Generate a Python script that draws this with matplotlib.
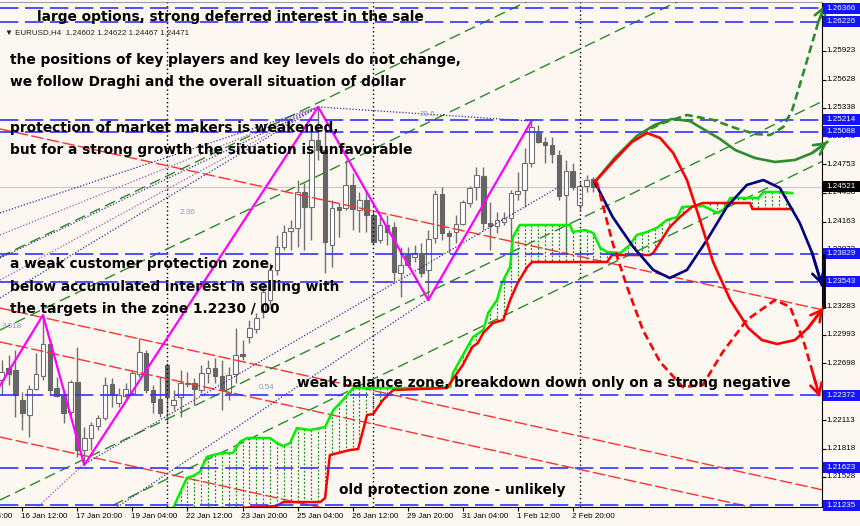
import numpy as np
import matplotlib.pyplot as plt
from matplotlib.patches import Rectangle
from matplotlib.transforms import blended_transform_factory as blend

BG = "#fdf7f2"

# ---------------- EURUSD H4 candles ----------------
opens = [1.22527, 1.22651, 1.22631, 1.22321, 1.22166, 1.22435, 1.22569, 1.22899, 1.22445, 1.22373,
         1.22197, 1.22507, 1.21805, 1.21929, 1.22053, 1.22135, 1.22486, 1.22290, 1.22362, 1.22393,
         1.22589, 1.22806, 1.22424, 1.22331, 1.22682, 1.22269, 1.22352, 1.22486, 1.22496, 1.22424,
         1.22600, 1.22651, 1.22569, 1.22393, 1.22589, 1.22796, 1.22971, 1.23054, 1.23229, 1.23353,
         1.23663, 1.23900, 1.24065, 1.24096, 1.24468, 1.24313, 1.25004, 1.24901, 1.23921, 1.24313,
         1.24302, 1.24540, 1.24282, 1.24385, 1.24230, 1.23972, 1.24127, 1.24106, 1.23632, 1.23817,
         1.23797, 1.23838, 1.23663, 1.23993, 1.24447, 1.24044, 1.24055, 1.24137, 1.24354, 1.24519,
         1.24633, 1.24148, 1.24117, 1.24158, 1.24199, 1.24447, 1.24488, 1.24767, 1.25076, 1.24984,
         1.24953, 1.24849, 1.24437, 1.24684, 1.24333, 1.24530, 1.24602]
highs = [1.22734, 1.22785, 1.22837, 1.22404, 1.22476, 1.22806, 1.23198, 1.22961, 1.22558, 1.22424,
         1.22527, 1.22868, 1.22042, 1.22094, 1.22166, 1.22558, 1.22548, 1.22445, 1.22496, 1.22631,
         1.22961, 1.22837, 1.22476, 1.22558, 1.22703, 1.22424, 1.22631, 1.22610, 1.22548, 1.22682,
         1.22734, 1.22754, 1.22734, 1.22662, 1.23064, 1.22940, 1.23147, 1.23219, 1.23508, 1.23735,
         1.24024, 1.24127, 1.24179, 1.24591, 1.24560, 1.25128, 1.25345, 1.25138, 1.24385, 1.24354,
         1.24798, 1.24664, 1.24468, 1.24488, 1.24282, 1.24210, 1.24230, 1.24158, 1.23900, 1.23900,
         1.23921, 1.23941, 1.24075, 1.24488, 1.24519, 1.24075, 1.24230, 1.24385, 1.24530, 1.24726,
         1.24726, 1.24364, 1.24261, 1.24261, 1.24488, 1.24674, 1.24922, 1.25200, 1.25159, 1.25035,
         1.25035, 1.24901, 1.24798, 1.24767, 1.24571, 1.24643, 1.24622]
lows = [1.22373, 1.22476, 1.22146, 1.22011, 1.21939, 1.22424, 1.22527, 1.22373, 1.22352, 1.22084,
        1.22166, 1.21733, 1.21650, 1.21805, 1.22011, 1.22115, 1.22249, 1.22249, 1.22342, 1.22373,
        1.22558, 1.22393, 1.22187, 1.22146, 1.22084, 1.22218, 1.22146, 1.22455, 1.22269, 1.22393,
        1.22496, 1.22496, 1.22218, 1.22321, 1.22496, 1.22734, 1.22909, 1.23013, 1.23167, 1.23301,
        1.23611, 1.23869, 1.23869, 1.23900, 1.23869, 1.23972, 1.24798, 1.23632, 1.23694, 1.24003,
        1.24282, 1.24075, 1.24055, 1.24055, 1.23921, 1.23941, 1.23921, 1.23529, 1.23384, 1.23694,
        1.23745, 1.23590, 1.23353, 1.23941, 1.23972, 1.23838, 1.23941, 1.24127, 1.24313, 1.24385,
        1.24075, 1.23869, 1.24044, 1.24127, 1.23838, 1.24385, 1.24313, 1.24726, 1.24973, 1.24767,
        1.24767, 1.24385, 1.23838, 1.24488, 1.24282, 1.24468, 1.24467]
closes = [1.22610, 1.22589, 1.22373, 1.22187, 1.22435, 1.22589, 1.22899, 1.22424, 1.22362, 1.22187,
          1.22507, 1.21805, 1.21929, 1.22063, 1.22135, 1.22476, 1.22373, 1.22373, 1.22435, 1.22600,
          1.22816, 1.22424, 1.22300, 1.22187, 1.22352, 1.22321, 1.22496, 1.22496, 1.22435, 1.22600,
          1.22651, 1.22569, 1.22424, 1.22579, 1.22785, 1.22775, 1.23064, 1.23167, 1.23436, 1.23663,
          1.23900, 1.24055, 1.24096, 1.24468, 1.24313, 1.25004, 1.24901, 1.23951, 1.24302, 1.24282,
          1.24540, 1.24292, 1.24385, 1.24230, 1.23951, 1.24127, 1.24055, 1.23642, 1.23714, 1.23714,
          1.23838, 1.23632, 1.23982, 1.24447, 1.24044, 1.24013, 1.24137, 1.24364, 1.24509, 1.24643,
          1.24148, 1.24117, 1.24179, 1.24199, 1.24457, 1.24478, 1.24767, 1.25138, 1.24984, 1.24953,
          1.24860, 1.24426, 1.24684, 1.24519, 1.24530, 1.24591, 1.24521]

time_tick_idx = [-5, 3, 11, 19, 27, 35, 43, 51, 59, 67, 75, 83]
time_tick_lab = ["15 Jan 04:00", "16 Jan 12:00", "17 Jan 20:00", "19 Jan 04:00", "22 Jan 12:00",
                 "23 Jan 20:00", "25 Jan 04:00", "26 Jan 12:00", "29 Jan 20:00", "31 Jan 04:00",
                 "1 Feb 12:00", "2 Feb 20:00"]

price_ticks = [1.25923, 1.25628, 1.25338, 1.25043, 1.24753, 1.24458, 1.24163, 1.23873,
               1.23283, 1.22993, 1.22698, 1.22113, 1.21818, 1.21528]
key_levels = [1.26366, 1.26226, 1.25214, 1.25088, 1.23829, 1.23543, 1.22372, 1.21623, 1.21235]
bid = 1.24521

separators = [24, 54, 84]

# zigzag (bar index, price)
zigzag = [(-3, 1.2215), (6, 1.23198), (12, 1.21650), (46, 1.25345), (62, 1.23353), (77, 1.25200)]

# ichimoku cloud borders (bar index, price)
span_a = [(24.5, 1.2114), (26.9, 1.21516), (27.8, 1.21537), (28.8, 1.21578), (29.8, 1.21733),
          (30.7, 1.21753), (32.0, 1.21774), (33.6, 1.21774), (34.6, 1.21888), (35.7, 1.21929),
          (39.0, 1.21929), (40.0, 1.21877), (40.9, 1.21846), (41.9, 1.21877), (42.9, 1.22032),
          (44.8, 1.22011), (47.0, 1.22042), (47.7, 1.22146), (48.2, 1.22218), (49.6, 1.22321),
          (51.1, 1.22445), (63.7, 1.22445), (65.2, 1.22455), (65.6, 1.22600), (67.0, 1.22780),
          (68.5, 1.22971), (70.0, 1.23043), (70.7, 1.23219), (72.0, 1.23353), (72.7, 1.23529),
          (73.9, 1.23694), (74.3, 1.24003), (75.3, 1.24127), (82.6, 1.24127), (83.0, 1.24055),
          (84.8, 1.24075), (86.0, 1.24044), (87.0, 1.23890), (88.0, 1.23848), (89.9, 1.23838),
          (91.3, 1.23921), (92.3, 1.24024), (93.8, 1.24055), (95.2, 1.24096), (96.7, 1.24179),
          (98.2, 1.24210), (98.9, 1.24313), (102.0, 1.24323), (104.0, 1.24251), (104.9, 1.24282),
          (105.9, 1.24406), (110.0, 1.24406), (110.7, 1.24468), (113.1, 1.24468), (114.9, 1.24457)]
span_b = [(33.0, 1.21200), (40.0, 1.21227), (40.9, 1.21268), (46.3, 1.21268), (47.0, 1.21309),
          (47.7, 1.21753), (50.6, 1.21805), (51.8, 1.21815), (53.1, 1.22166), (54.0, 1.22177),
          (55.4, 1.22321), (56.9, 1.22424), (64.7, 1.22445), (66.2, 1.22600), (67.0, 1.22680),
          (68.4, 1.22868), (69.2, 1.22909), (70.0, 1.23013), (71.4, 1.23116), (72.9, 1.23147),
          (73.9, 1.23353), (75.0, 1.23529), (76.4, 1.23694), (77.1, 1.23745), (88.0, 1.23745),
          (88.7, 1.23817), (94.2, 1.23817), (94.7, 1.23838), (97.1, 1.24106), (98.6, 1.24210),
          (100.3, 1.24313), (101.9, 1.24354), (108.8, 1.24354), (109.1, 1.24292), (114.9, 1.24292)]

# channel lines: ((i0, p0), (i1, p1))
red_channel = [((-0.25, 1.25118), (119.4, 1.23250)),
               ((-0.25, 1.23270), (119.4, 1.21392)),
               ((-0.25, 1.22920), (119.4, 1.21052)),
               ((-0.25, 1.21939), (119.4, 1.20071))]
green_channel = [((-0.25, 1.23797), (119.4, 1.27915)),
                 ((-0.25, 1.23043), (119.4, 1.27161)),
                 ((-0.25, 1.21289), (119.4, 1.25407)),
                 ((-0.25, 1.20670), (119.4, 1.24788))]
navy_dotted = [((11.8, 1.21650), (81.0, 1.24520)),
               ((16.8, 1.21217), (61.8, 1.23353)),
               ((46.0, 1.25345), (76.9, 1.25200)),
               ((-0.25, 1.24251), (46.0, 1.25345)),
               ((-0.25, 1.23786), (46.0, 1.25345)),
               ((-0.25, 1.23374), (46.0, 1.25345))]
purple_dotted = [((-0.25, 1.24024), (46.0, 1.25345)),
                 ((-0.25, 1.23559), (46.0, 1.25345)),
                 ((4.1, 1.21144), (11.8, 1.21650))]
fib_labels = [(0.0, 1.23075, "3.618"), (25.9, 1.24251, "2.36"), (37.3, 1.22445, "0.54"),
              (60.8, 1.25262, "23.6")]

# forecast scenarios drawn by hand (bar index, price)
fc_green = [(86.2, 1.24571), (89.1, 1.24818), (92.3, 1.25045), (94.9, 1.25159), (97.4, 1.25221),
            (100.0, 1.25200), (102.2, 1.25107), (104.4, 1.25015), (106.6, 1.24901), (109.5, 1.24818),
            (112.4, 1.24777), (115.3, 1.24798), (117.8, 1.24870), (120.0, 1.24984)]
fc_green_dash = [(92.8, 1.25066), (95.7, 1.25169), (99.6, 1.25262), (103.4, 1.25211), (106.6, 1.25128),
                 (109.5, 1.25066), (111.7, 1.25056), (113.6, 1.25138), (114.9, 1.25314), (116.0, 1.25572),
                 (117.5, 1.25933), (118.7, 1.26222), (119.7, 1.26397)]
fc_red = [(86.2, 1.24571), (89.1, 1.24798), (91.6, 1.24984), (93.8, 1.25076), (95.7, 1.25025),
          (97.6, 1.24870), (99.6, 1.24591), (101.5, 1.24179), (103.4, 1.23745), (105.9, 1.23353),
          (108.5, 1.23064), (110.5, 1.22940), (112.7, 1.22899), (115.3, 1.22940), (117.2, 1.23064),
          (119.4, 1.23270)]
fc_navy = [(86.2, 1.24571), (88.8, 1.24210), (91.8, 1.23900), (94.7, 1.23663), (97.1, 1.23580),
           (99.6, 1.23663), (102.5, 1.23972), (105.4, 1.24313), (108.3, 1.24540), (110.7, 1.24591),
           (113.1, 1.24509), (116.0, 1.24148), (117.8, 1.23838), (119.2, 1.23508)]
fc_red_dash = [(86.5, 1.24571), (88.8, 1.23941), (90.9, 1.23487), (93.2, 1.23043), (95.7, 1.22713),
               (99.0, 1.22455), (101.9, 1.22476), (104.8, 1.22816), (108.3, 1.23147), (112.4, 1.23353),
               (114.6, 1.23281), (116.5, 1.22940), (117.9, 1.22600), (118.9, 1.22352)]

notes = [(5.1, 1.26274, "large options, strong deferred interest in the sale"),
         (1.2, 1.25830, "the positions of key players and key levels do not change,"),
         (1.2, 1.25603, "we follow Draghi and the overall situation of dollar"),
         (1.2, 1.25128, "protection of market makers is weakened,"),
         (1.2, 1.24901, "but for a strong growth the situation is unfavorable"),
         (1.2, 1.23725, "a weak customer protection zone,"),
         (1.2, 1.23487, "below accumulated interest in selling with"),
         (1.2, 1.23260, "the targets in the zone 1.2230 / 00"),
         (42.9, 1.22496, "weak balance zone, breakdown down only on a strong negative"),
         (49.0, 1.21392, "old protection zone - unlikely")]

# ---------------- figure ----------------
fig = plt.figure(figsize=(8.6, 5.26), dpi=100, facecolor=BG)
ax = fig.add_axes([0, 19 / 526, 822 / 860, 505 / 526], facecolor=BG)
ax.set_xlim(-0.25, 119.23)
ax.set_ylim(1.21217, 1.26428)

ax.spines["left"].set_visible(False)
ax.spines["top"].set_color("#a0a0a0")
ax.spines["right"].set_color("black")
ax.spines["bottom"].set_color("black")

# candles
idx = np.arange(len(opens))
o, h, l, c = (np.array(a) for a in (opens, highs, lows, closes))
up = c >= o
ax.vlines(idx, l, h, color="#707070", lw=1, zorder=2)
ax.bar(idx[up], (c - o)[up], bottom=o[up], width=0.66, color="white",
       edgecolor="#707070", lw=0.8, zorder=2.5)
ax.bar(idx[~up], (o - c)[~up], bottom=c[~up], width=0.66, color="#666666",
       edgecolor="#666666", lw=0.8, zorder=2.5)

ax.axhline(bid, color="#c8c8c8", lw=0.8, zorder=1.5)

for s in separators:
    ax.axvline(s, color="black", lw=1, ls=(0, (1, 2)), zorder=3)

# channels / fans
for (x0, y0), (x1, y1) in red_channel:
    ax.plot([x0, x1], [y0, y1], color="#ff3030", lw=1, dashes=(9, 2.5), zorder=3)
for (x0, y0), (x1, y1) in green_channel:
    ax.plot([x0, x1], [y0, y1], color="#2a8a2a", lw=1, dashes=(8, 4), zorder=3)
for (x0, y0), (x1, y1) in navy_dotted:
    ax.plot([x0, x1], [y0, y1], color="#2b2b9a", lw=0.9, ls=(0, (1, 1.5)), zorder=3)
for (x0, y0), (x1, y1) in purple_dotted:
    ax.plot([x0, x1], [y0, y1], color="#a050b0", lw=0.9, ls=(0, (1, 1.5)), zorder=3)
for x, y, t in fib_labels:
    ax.text(x, y, t, color="#8a9ab8", fontsize=5.8, family="Liberation Sans", va="center", zorder=3)

# ichimoku cloud
ax_, ay_ = zip(*span_a)
bx_, by_ = zip(*span_b)
for k in range(25, 115):
    ya = np.interp(k, ax_, ay_)
    yb = np.interp(k, bx_, by_, left=1.2110)
    ax.plot([k, k], [ya, yb], color="#1e8c1e", lw=0.9, ls=(0, (1.5, 1.5)), zorder=3.2)
ax.plot(ax_, ay_, color="#00f000", lw=1.8, zorder=3.5)
ax.plot(bx_, by_, color="#ff0000", lw=1.8, zorder=3.5)

# zigzag
zx, zy = zip(*zigzag)
ax.plot(zx, zy, color="#ff00ff", lw=1.6, zorder=4)

# key levels
for lv in key_levels:
    ax.axhline(lv, color="#3232ff", lw=1.2, dashes=(11, 4), zorder=4)

# forecast curves
def curve(pts, color, dashed=False):
    xs, ys = zip(*pts)
    kw = dict(dashes=(3, 1.6)) if dashed else {}
    ax.plot(xs, ys, color=color, lw=1.9, zorder=5, clip_on=False,
            solid_joinstyle="round", **kw)
    ax.annotate("", xy=pts[-1], xytext=pts[-2], annotation_clip=False, zorder=5,
                arrowprops=dict(arrowstyle="->,head_length=0.55,head_width=0.3",
                                color=color, lw=1.9, mutation_scale=14, shrinkA=0, shrinkB=0))

curve(fc_green, "#2e8b2e")
curve(fc_green_dash, "#2e8b2e", dashed=True)
curve(fc_navy, "#000080")
curve(fc_red, "#ff0000")
curve(fc_red_dash, "#ff0000", dashed=True)

# notes
for x, y, t in notes:
    ax.text(x, y, t, fontsize=9.9, fontweight="bold", family="DejaVu Sans",
            color="black", va="center", ha="left", zorder=6)

fig.text(5 / 860, 1 - 33 / 526, "\u25bc EURUSD,H4  1.24602 1.24622 1.24467 1.24471",
         fontsize=5.8, family=["Liberation Sans", "DejaVu Sans"], va="center", color="#202020")

# right price scale
tr_r = blend(ax.transAxes, ax.transData)
ax.yaxis.tick_right()
ax.set_yticks(price_ticks + key_levels + [bid])
ax.tick_params(axis="y", length=3, width=0.8, direction="out", labelright=False, labelleft=False)
lab_kw = dict(fontsize=5.8, family="Liberation Sans", va="center", ha="left", clip_on=False)
for v in price_ticks:
    ax.text(826 / 822, v, f"{v:.5f}", transform=tr_r, color="black", zorder=7, **lab_kw)
half = 5.5 * 0.0001032
for v, fcol in [(lv, "#1414ff") for lv in key_levels] + [(bid, "black")]:
    ax.add_patch(Rectangle((823 / 822, v - half), 37 / 822, 2 * half, transform=tr_r,
                           facecolor=fcol, edgecolor="none", clip_on=False, zorder=8))
    ax.text(826 / 822, v, f"{v:.5f}", transform=tr_r, color="white", zorder=9, **lab_kw)
ax.plot([1.002, 1.002], [1.23281, 1.23817], transform=tr_r, color="black", lw=2,
        clip_on=False, zorder=9)

# time scale
tr_b = blend(ax.transData, ax.transAxes)
ax.set_xticks([t for t in time_tick_idx if t >= 0])
ax.tick_params(axis="x", length=3, width=0.8, direction="out", labelbottom=False)
for t, lab in zip(time_tick_idx, time_tick_lab):
    ax.text(t - 0.15, -0.018, lab, transform=tr_b, fontsize=5.8, family="Liberation Sans",
            va="center", ha="left", clip_on=False)

fig.savefig("out.png", dpi=100, facecolor=BG)
